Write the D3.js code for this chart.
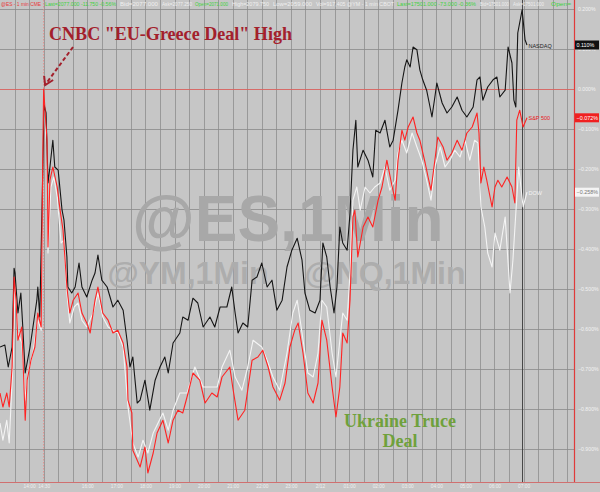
<!DOCTYPE html>
<html><head><meta charset="utf-8">
<script src="https://cdn.jsdelivr.net/npm/d3@7"></script>
<style>body{margin:0;background:#c6c6c6}svg{display:block}</style>
</head><body><svg id="c" width="600" height="492"></svg>
<script>
// minutes after 13:00 (2/11) and % change
const nasdaqTime = [0,10,17,25,29,31,37,43,47,52,62,68,76,78,82,87,91,95,99,103,109,113,120,128,132,138,140,148,155,163,169,179,190,196,202,210,221,233,243,254,262,268,274,283,289,299,309,320,330,340,347,357,371,377,388,398,408,419,433,443,454,468,478,485,491,501,511,520,530,540,551,561,571,582,592,602,613,623,629,639,650,660,666,674,681,689,695,701,707,716,722,728,734,738,749,759,769,775,784,794,804,811,821,829,835,839,846,852,860,866,872,880,887,891,897,901,912,922,932,943,953,963,976,984,990,996,1006,1017,1025,1031,1042,1048,1056,1060,1064,1068,1077,1083,1087];
const nasdaqPct = [-0.645,-0.640,-0.695,-0.645,-0.448,-0.460,-0.560,-0.510,-0.595,-0.710,-0.645,-0.595,-0.528,-0.495,-0.570,-0.278,-0.040,-0.060,-0.235,-0.195,-0.128,-0.195,-0.203,-0.303,-0.328,-0.420,-0.495,-0.510,-0.495,-0.435,-0.495,-0.520,-0.478,-0.460,-0.415,-0.478,-0.495,-0.545,-0.528,-0.553,-0.628,-0.695,-0.670,-0.785,-0.778,-0.728,-0.803,-0.728,-0.695,-0.670,-0.710,-0.635,-0.610,-0.570,-0.578,-0.523,-0.535,-0.595,-0.570,-0.595,-0.545,-0.545,-0.495,-0.560,-0.610,-0.585,-0.595,-0.478,-0.470,-0.435,-0.495,-0.478,-0.553,-0.528,-0.445,-0.403,-0.373,-0.428,-0.510,-0.553,-0.560,-0.528,-0.385,-0.420,-0.495,-0.560,-0.495,-0.345,-0.385,-0.403,-0.310,-0.153,-0.078,-0.195,-0.153,-0.178,-0.220,-0.103,-0.110,-0.078,-0.145,-0.128,-0.053,0.015,0.055,0.073,0.055,0.105,0.098,0.048,0.023,-0.003,-0.045,-0.070,-0.020,0.015,-0.035,-0.060,-0.045,-0.020,-0.053,-0.070,-0.045,0.023,0.030,-0.028,0.005,0.023,0.030,-0.020,-0.003,0.105,0.065,-0.028,-0.045,0.140,0.198,0.123,0.110];
const spxTime = [0,6,14,19,25,29,33,37,45,52,56,64,72,78,85,88,90,97,99,103,109,118,124,130,138,144,151,161,169,179,186,196,202,212,223,233,243,254,262,264,272,274,283,289,299,305,316,324,336,347,357,367,377,388,398,412,423,437,448,458,474,480,491,505,520,532,542,553,563,577,588,598,608,615,625,635,646,656,664,674,685,693,701,707,716,722,728,732,738,749,759,769,780,788,798,809,815,821,829,835,842,852,860,866,877,883,889,897,903,914,922,932,943,953,963,974,984,988,992,998,1004,1015,1021,1027,1035,1046,1056,1062,1066,1072,1079,1087];
const spxPct = [-0.760,-0.795,-0.760,-0.795,-0.695,-0.470,-0.528,-0.628,-0.595,-0.828,-0.728,-0.678,-0.645,-0.560,-0.595,-0.195,0.000,-0.128,-0.395,-0.228,-0.195,-0.245,-0.303,-0.353,-0.495,-0.560,-0.528,-0.510,-0.560,-0.585,-0.610,-0.528,-0.495,-0.560,-0.578,-0.610,-0.603,-0.635,-0.695,-0.778,-0.810,-0.903,-0.928,-0.945,-0.895,-0.960,-0.910,-0.860,-0.828,-0.885,-0.828,-0.803,-0.810,-0.760,-0.710,-0.728,-0.785,-0.760,-0.770,-0.720,-0.695,-0.745,-0.828,-0.803,-0.678,-0.670,-0.653,-0.695,-0.745,-0.778,-0.735,-0.645,-0.603,-0.585,-0.660,-0.760,-0.785,-0.735,-0.578,-0.628,-0.745,-0.820,-0.745,-0.610,-0.635,-0.528,-0.320,-0.303,-0.420,-0.345,-0.320,-0.345,-0.278,-0.245,-0.178,-0.245,-0.278,-0.178,-0.103,-0.128,-0.095,-0.070,-0.110,-0.128,-0.185,-0.220,-0.253,-0.178,-0.120,-0.145,-0.178,-0.160,-0.128,-0.153,-0.110,-0.095,-0.060,-0.110,-0.235,-0.195,-0.228,-0.295,-0.245,-0.228,-0.245,-0.220,-0.245,-0.285,-0.078,-0.053,-0.095,-0.072];
const dowTime = [0,6,14,19,27,31,37,45,52,58,68,78,85,88,91,97,99,105,111,118,126,132,138,144,153,161,169,179,192,202,212,223,233,243,254,264,274,285,295,305,316,326,336,347,357,371,386,402,419,433,448,458,474,485,499,511,522,540,551,563,577,592,604,613,623,635,646,656,664,674,685,693,701,707,716,722,728,736,743,753,763,773,784,794,804,815,821,829,839,850,860,870,880,889,897,908,918,928,938,949,959,969,979,986,992,1000,1006,1015,1021,1031,1042,1052,1058,1064,1070,1079,1087];
const dowPct = [-0.835,-0.878,-0.828,-0.885,-0.678,-0.495,-0.610,-0.635,-0.778,-0.710,-0.660,-0.578,-0.603,-0.195,-0.045,-0.160,-0.410,-0.245,-0.220,-0.270,-0.385,-0.378,-0.510,-0.585,-0.545,-0.535,-0.578,-0.595,-0.560,-0.510,-0.570,-0.595,-0.603,-0.610,-0.645,-0.795,-0.885,-0.920,-0.878,-0.910,-0.860,-0.835,-0.810,-0.853,-0.803,-0.760,-0.760,-0.695,-0.745,-0.745,-0.745,-0.695,-0.653,-0.720,-0.753,-0.695,-0.628,-0.645,-0.678,-0.720,-0.753,-0.660,-0.560,-0.528,-0.610,-0.710,-0.720,-0.660,-0.528,-0.545,-0.660,-0.720,-0.628,-0.560,-0.578,-0.460,-0.278,-0.245,-0.303,-0.245,-0.260,-0.245,-0.235,-0.195,-0.253,-0.228,-0.160,-0.128,-0.160,-0.110,-0.145,-0.178,-0.228,-0.278,-0.195,-0.145,-0.195,-0.178,-0.153,-0.170,-0.128,-0.178,-0.128,-0.135,-0.295,-0.345,-0.410,-0.445,-0.360,-0.403,-0.320,-0.510,-0.428,-0.310,-0.195,-0.295,-0.258];
const tickTimes = [60,90,180,240,300,360,420,480,540,600,660,720,780,840,900,960,1020,1080];
const tickLabels = ["14:00","14:30","16:00","17:00","18:00","19:00","20:00","21:00","22:00","23:00","2/12","01:00","02:00","03:00","04:00","05:00","06:00","07:00"];
const pctTicks = [0.2,0.1,0,-0.1,-0.2,-0.3,-0.4,-0.5,-0.6,-0.7,-0.8,-0.9];
const highTime = 90, cursorTime = 1077;

const svg = d3.select("#c");
const W = 574, H = 482;
const x = d3.scaleLinear().domain([0, 1184]).range([0, W]);
const y = d3.scaleLinear().domain([-0.9825, 0.2225]).range([H, 0]);
const smallFont = "Liberation Sans, Arial, sans-serif";

svg.append("rect").attr("width",600).attr("height",492).attr("fill","#c6c6c6");

// vertical grid every 30 min
const vg = d3.range(30, 1184, 30);
svg.append("g").selectAll("line").data(vg).join("line")
  .attr("x1",d=>Math.round(x(d))+0.5).attr("x2",d=>Math.round(x(d))+0.5)
  .attr("y1",0).attr("y2",H).attr("stroke","#8e8e8e").attr("stroke-width",0.8);
// horizontal grid
svg.append("g").selectAll("line").data(pctTicks.filter(d=>d!==0)).join("line")
  .attr("x1",0).attr("x2",W).attr("y1",d=>Math.round(y(d))+0.5).attr("y2",d=>Math.round(y(d))+0.5)
  .attr("stroke","#8a8a8a").attr("stroke-width",0.8);
// zero line (red)
svg.append("line").attr("x1",0).attr("x2",W).attr("y1",Math.round(y(0))+0.5).attr("y2",Math.round(y(0))+0.5)
  .attr("stroke","#d9625f").attr("stroke-width",0.9);

// watermark
svg.append("text").attr("x",288).attr("y",241).attr("text-anchor","middle")
  .attr("font-family","Liberation Sans, Arial, sans-serif").attr("font-weight","bold")
  .attr("font-size",64).attr("fill","#a8a8a8").text("@ES,1Min");
svg.append("text").attr("x",188).attr("y",284).attr("text-anchor","middle")
  .attr("font-family","Liberation Sans, Arial, sans-serif").attr("font-weight","bold")
  .attr("font-size",32).attr("fill","#adadad").text("@YM,1Min");
svg.append("text").attr("x",385).attr("y",284).attr("text-anchor","middle")
  .attr("font-family","Liberation Sans, Arial, sans-serif").attr("font-weight","bold")
  .attr("font-size",32).attr("fill","#adadad").text("@NQ,1Min");

// high dotted line & cursor line
svg.append("line").attr("x1",x(highTime)).attr("x2",x(highTime)).attr("y1",0).attr("y2",H)
  .attr("stroke","#e48a88").attr("stroke-width",0.9).attr("stroke-dasharray","1.5,1.5");
svg.append("line").attr("x1",Math.round(x(cursorTime))+0.5).attr("x2",Math.round(x(cursorTime))+0.5).attr("y1",0).attr("y2",H)
  .attr("stroke","#3a3a3a").attr("stroke-width",0.9);

// frame lines
svg.append("line").attr("x1",W+0.5).attr("x2",W+0.5).attr("y1",0).attr("y2",H+1)
  .attr("stroke","#e03a3a").attr("stroke-width",1.2);
svg.append("line").attr("x1",0).attr("x2",600).attr("y1",H+0.5).attr("y2",H+0.5)
  .attr("stroke","#d07070").attr("stroke-width",1);

// series
const line = d3.line().x(d=>x(d[0])).y(d=>y(d[1]));
const series = [
  {name:"DOW", t:dowTime, v:dowPct, color:"#f4f4f4", labelColor:"#f4f4f4", boxFill:"#f4f4f4", boxText:"#777"},
  {name:"NASDAQ", t:nasdaqTime, v:nasdaqPct, color:"#151515", labelColor:"#222", boxFill:"#111", boxText:"#fff"},
  {name:"S&P 500", t:spxTime, v:spxPct, color:"#ff2323", labelColor:"#e82020", boxFill:"#f02020", boxText:"#fff"}
];
series.forEach(s=>{
  const pts = d3.zip(s.t, s.v);
  s.pts = pts;
  svg.append("path").datum(pts).attr("d",line).attr("fill","none")
    .attr("stroke",s.color).attr("stroke-width",1.1).attr("stroke-linejoin","round");
});

// y axis labels
const ya = d3.axisRight(y).tickValues(pctTicks).tickSize(0).tickPadding(4)
  .tickFormat(d=>d3.format(".3f")(d)+"%");
const yg = svg.append("g").attr("transform",`translate(${W},0)`).call(ya);
yg.select(".domain").remove();
yg.selectAll("text").attr("fill","#f2f2f2").attr("font-size",5.2).attr("font-family",smallFont);

// x axis labels
const xa = d3.axisBottom(x).tickValues(tickTimes).tickSize(0).tickPadding(3)
  .tickFormat((d,i)=>tickLabels[i]);
const xg = svg.append("g").attr("transform",`translate(0,${H})`).call(xa);
xg.select(".domain").remove();
xg.selectAll("text").attr("fill","#efefef").attr("font-size",4.8).attr("font-family",smallFont);

// end labels and value boxes
series.forEach(s=>{
  const last = s.pts[s.pts.length-1];
  const ly = y(last[1]);
  svg.append("text").attr("x",x(last[0])+1.5).attr("y",ly+2.5).attr("font-size",5.5)
    .attr("font-family",smallFont).attr("fill",s.labelColor).text(s.name);
  svg.append("rect").attr("x",W+1).attr("y",ly-4.5).attr("width",24).attr("height",9).attr("fill",s.boxFill);
  svg.append("text").attr("x",W+2.5).attr("y",ly+2).attr("font-size",5.4)
    .attr("font-family",smallFont).attr("fill",s.boxText)
    .text(d3.format(".3f")(last[1])+"%");
});

// header texts
const header = [
  {x:1,w:40,t:"@ES - 1 min  CME",c:"#e83a3a"},
  {x:45,w:71,t:"Last=2077.000  -11.750  -0.56%",c:"#3fd23f"},
  {x:120,w:38,t:"Bid=2077.000",c:"#efefef"},
  {x:162,w:30,t:"Ask=2077.250",c:"#efefef"},
  {x:195,w:33,t:"Open=2071.000",c:"#3fd23f"},
  {x:232,w:37,t:"High=2079.750",c:"#efefef"},
  {x:273,w:39,t:"Low=2059.000",c:"#efefef"},
  {x:316,w:78,t:"Vol=917,405  @YM - 1 min  CBOT",c:"#efefef"},
  {x:397,w:79,t:"Last=17501.000  -73.000  -0.36%",c:"#3fd23f"},
  {x:480,w:29,t:"Bid=17501.000",c:"#efefef"},
  {x:513,w:31,t:"Ask=17501.000",c:"#efefef"},
  {x:551,w:20,t:"Open=",c:"#3fd23f"}
];
svg.append("g").selectAll("text").data(header).join("text")
  .attr("x",d=>d.x).attr("y",6).attr("font-size",4.6).attr("font-family",smallFont)
  .attr("fill",d=>d.c).attr("textLength",d=>d.w).attr("lengthAdjust","spacingAndGlyphs").text(d=>d.t);

// annotations
const ann = svg.append("g");
ann.append("text").attr("x",49).attr("y",40).attr("font-family","Liberation Serif, Times New Roman, serif")
  .attr("font-weight","bold").attr("font-size",19).attr("fill","#a3202c")
  .attr("textLength",243).attr("lengthAdjust","spacingAndGlyphs")
  .text('CNBC "EU-Greece Deal" High');
const ax1 = 73, ay1 = 47, ax2 = x(highTime)+1.5, ay2 = y(0)-4;
ann.append("line").attr("x1",ax1).attr("y1",ay1).attr("x2",ax2).attr("y2",ay2)
  .attr("stroke","#a3202c").attr("stroke-width",2).attr("stroke-dasharray","4,2.5");
ann.append("path").attr("d",`M${ax2-1},${ay2-9} L${ax2},${ay2} L${ax2+8},${ay2-5}`)
  .attr("fill","none").attr("stroke","#a3202c").attr("stroke-width",2);

ann.append("text").attr("x",400).attr("y",427).attr("text-anchor","middle")
  .attr("font-family","Liberation Serif, Times New Roman, serif").attr("font-weight","bold")
  .attr("font-size",18).attr("fill","#6fa13c").text("Ukraine Truce");
ann.append("text").attr("x",400).attr("y",447).attr("text-anchor","middle")
  .attr("font-family","Liberation Serif, Times New Roman, serif").attr("font-weight","bold")
  .attr("font-size",18).attr("fill","#6fa13c").text("Deal");
</script></body></html>
